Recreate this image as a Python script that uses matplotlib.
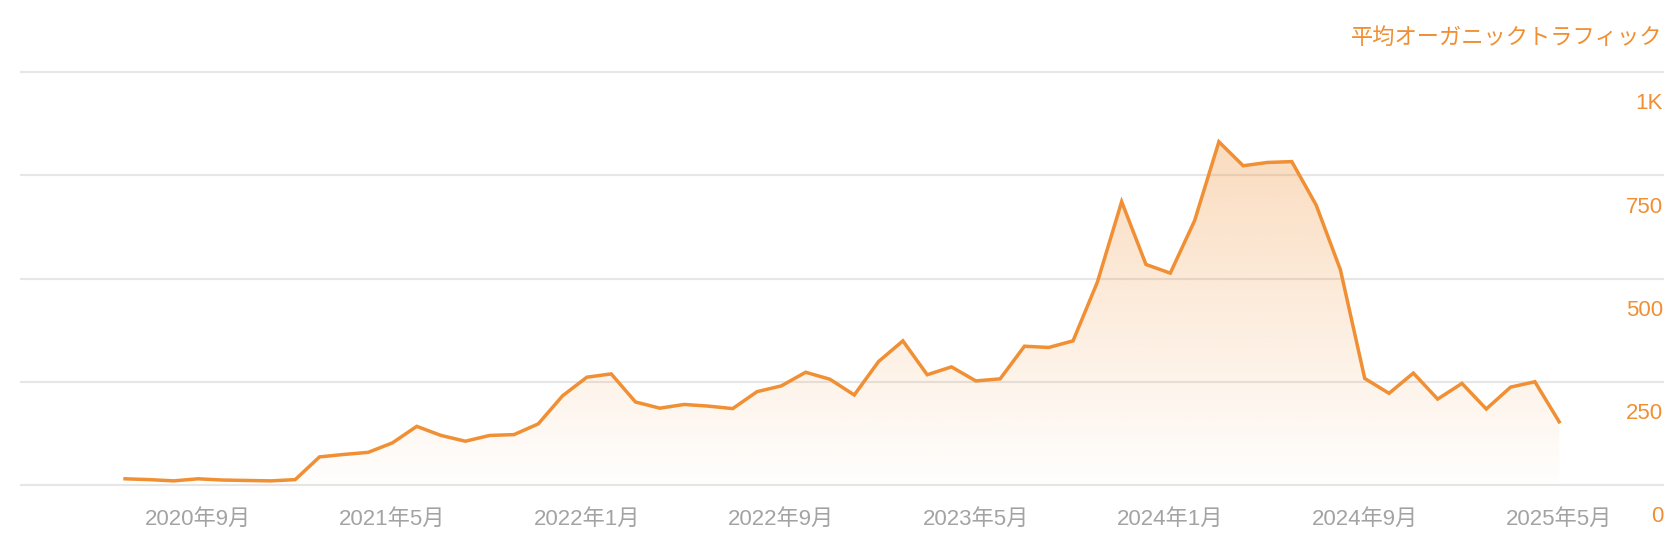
import matplotlib.pyplot as plt
import numpy as np
from matplotlib.colors import to_rgb
from matplotlib.transforms import blended_transform_factory

# monthly average organic traffic, Jun 2020 .. May 2025
start_year, start_month = 2020, 6
traffic = [15, 13, 10, 15, 12, 11, 10, 13, 68, 74, 79, 102,
           142, 120, 106, 120, 122, 148, 216, 261, 269, 201, 186, 195,
           191, 185, 226, 240, 273, 256, 218, 299, 349, 267, 286, 252,
           257, 336, 333, 349, 491, 686, 534, 513, 640, 831, 773, 781,
           783, 678, 521, 258, 222, 271, 208, 246, 184, 237, 250, 153]

tick_months = [3, 11, 19, 27, 35, 43, 51, 59]
y_ticks = [0, 250, 500, 750, 1000]
y_labels = ["0", "250", "500", "750", "1K"]
title = "平均オーガニックトラフィック"

ORANGE = "#F08F33"
GRAY = "#A3A3A3"
GRID = "#E6E6E6"
FONT = ["Liberation Sans", "Noto Sans CJK JP", "DejaVu Sans"]
plt.rcParams["font.family"] = FONT


def month_label(i):
    m = start_month - 1 + i
    return f"{start_year + m // 12}年{m % 12 + 1}月"


x = np.arange(len(traffic))
y = np.array(traffic, dtype=float)

fig = plt.figure(figsize=(16.78, 5.52), dpi=100)
ax = fig.add_axes([21 / 1678, 67 / 552, 1642 / 1678, 413 / 552])

for v in y_ticks:
    ax.axhline(v, color=GRID, lw=1.5, zorder=1, clip_on=False)

# gradient fill under the line
rgb = np.array(to_rgb(ORANGE))
ny = 256
alpha = np.linspace(0.0, 0.37, ny).reshape(-1, 1) + 0.01
img = np.zeros((ny, 1, 4))
img[:, :, :3] = rgb
img[:, :, 3] = alpha
poly = ax.fill_between(x, 0, y, color="none", lw=0)
im = ax.imshow(img, origin="lower", aspect="auto",
               extent=[x[0], x[-1], 0, 1000], zorder=2)
im.set_clip_path(poly.get_paths()[0], transform=ax.transData)
ax.plot(x, y, color=ORANGE, lw=2.5, zorder=3, solid_joinstyle="miter")

ax.set_xlim(-4.28, 63.27)
ax.set_ylim(0, 1000)

ax.set_xticks(tick_months)
ax.set_xticklabels([month_label(i) for i in tick_months])
ax.tick_params(axis="x", length=0, pad=17, labelsize=16, labelcolor=GRAY)
ax.set_yticks([])
for s in ax.spines.values():
    s.set_visible(False)

tr = blended_transform_factory(ax.transAxes, ax.transData)
for v, lab in zip(y_ticks, y_labels):
    ax.annotate(lab, xy=(1.0, v), xycoords=tr, xytext=(0, -32),
                textcoords="offset pixels", ha="right", va="center",
                fontsize=16, color=ORANGE)

fig.text(1662 / 1678, 1 - 38 / 552, title, ha="right", va="center",
         fontsize=16, color=ORANGE)

fig.savefig("out.png", dpi=100, facecolor="white")
